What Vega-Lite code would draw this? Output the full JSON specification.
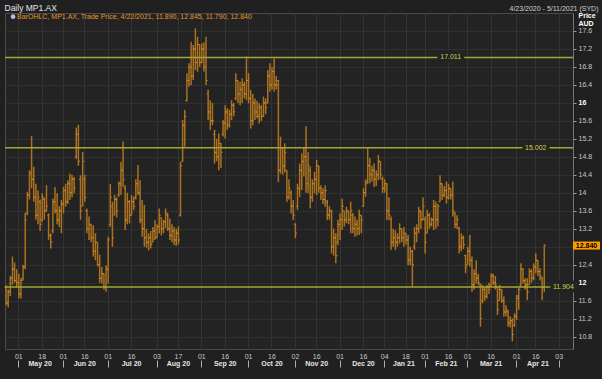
{
"$schema": "https://vega.github.io/schema/vega-lite/v6.json",
"width": 568, "height": 336,
"autosize": {"type": "none"},
"padding": {"left": 5, "top": 13, "right": 29, "bottom": 30},
"background": "#202020",
"config": {"view": {"fill": "#232323", "stroke": "#4a4a4a"}, "font": "Liberation Sans"},
"datasets": {
"one": [{}],
"refs": [{"level": 17.011, "label": "17.011", "at": "2021-02-17"}, {"level": 15.002, "label": "15.002", "at": "2021-04-16"}, {"level": 11.904, "label": "11.904", "at": "2021-05-05"}],
"bars": [
{"d":"2020-04-23","o":11.9,"h":11.95,"l":11.5,"c":11.55},
{"d":"2020-04-24","o":11.55,"h":11.85,"l":11.45,"c":11.8},
{"d":"2020-04-27","o":11.8,"h":12.15,"l":11.7,"c":12.1},
{"d":"2020-04-28","o":12.1,"h":12.58,"l":11.95,"c":12.3},
{"d":"2020-04-29","o":12.3,"h":12.45,"l":12.0,"c":12.05},
{"d":"2020-04-30","o":12.05,"h":12.3,"l":11.9,"c":12.0},
{"d":"2020-05-01","o":12.0,"h":12.2,"l":11.65,"c":11.75},
{"d":"2020-05-04","o":11.75,"h":12.1,"l":11.65,"c":12.05},
{"d":"2020-05-05","o":12.1,"h":12.4,"l":12.05,"c":12.35},
{"d":"2020-05-06","o":12.35,"h":13.55,"l":12.3,"c":13.4},
{"d":"2020-05-07","o":13.55,"h":14.02,"l":13.5,"c":13.95},
{"d":"2020-05-08","o":13.95,"h":14.5,"l":13.85,"c":14.4},
{"d":"2020-05-11","o":14.45,"h":15.26,"l":14.1,"c":14.3},
{"d":"2020-05-12","o":14.3,"h":14.58,"l":13.8,"c":13.9},
{"d":"2020-05-13","o":13.9,"h":14.2,"l":13.4,"c":13.5},
{"d":"2020-05-14","o":13.5,"h":14.05,"l":13.3,"c":13.9},
{"d":"2020-05-15","o":13.8,"h":13.85,"l":13.15,"c":13.3},
{"d":"2020-05-18","o":13.4,"h":13.99,"l":13.35,"c":13.9},
{"d":"2020-05-19","o":13.85,"h":13.9,"l":13.4,"c":13.6},
{"d":"2020-05-20","o":13.6,"h":14.17,"l":13.58,"c":13.7},
{"d":"2020-05-21","o":13.5,"h":13.54,"l":12.95,"c":13.05},
{"d":"2020-05-22","o":13.05,"h":13.1,"l":12.76,"c":12.9},
{"d":"2020-05-25","o":13.15,"h":13.87,"l":13.1,"c":13.8},
{"d":"2020-05-26","o":13.8,"h":14.13,"l":13.54,"c":13.6},
{"d":"2020-05-27","o":13.6,"h":13.99,"l":13.3,"c":13.4},
{"d":"2020-05-28","o":13.4,"h":13.7,"l":13.24,"c":13.6},
{"d":"2020-05-29","o":13.6,"h":13.84,"l":13.1,"c":13.75},
{"d":"2020-06-01","o":13.75,"h":14.13,"l":13.54,"c":14.05},
{"d":"2020-06-02","o":14.05,"h":14.2,"l":13.69,"c":13.8},
{"d":"2020-06-03","o":13.8,"h":14.28,"l":13.75,"c":14.2},
{"d":"2020-06-04","o":14.2,"h":14.43,"l":13.84,"c":14.0},
{"d":"2020-06-05","o":14.0,"h":14.4,"l":13.9,"c":14.3},
{"d":"2020-06-09","o":14.3,"h":14.35,"l":13.99,"c":14.1},
{"d":"2020-06-10","o":14.8,"h":15.45,"l":14.75,"c":15.3},
{"d":"2020-06-11","o":15.3,"h":15.51,"l":14.6,"c":14.7},
{"d":"2020-06-12","o":14.3,"h":14.39,"l":13.4,"c":13.6},
{"d":"2020-06-15","o":13.7,"h":14.91,"l":13.7,"c":14.7},
{"d":"2020-06-16","o":14.3,"h":14.4,"l":13.8,"c":13.9},
{"d":"2020-06-17","o":13.6,"h":13.65,"l":13.1,"c":13.2},
{"d":"2020-06-18","o":13.2,"h":13.47,"l":12.95,"c":13.3},
{"d":"2020-06-19","o":13.3,"h":13.3,"l":12.9,"c":13.0},
{"d":"2020-06-22","o":13.0,"h":13.28,"l":12.58,"c":12.7},
{"d":"2020-06-23","o":12.7,"h":13.1,"l":12.5,"c":12.9},
{"d":"2020-06-24","o":12.9,"h":12.9,"l":12.36,"c":12.4},
{"d":"2020-06-25","o":12.4,"h":12.62,"l":12.0,"c":12.1},
{"d":"2020-06-26","o":12.1,"h":12.35,"l":11.98,"c":12.2},
{"d":"2020-06-29","o":12.2,"h":12.21,"l":11.84,"c":11.9},
{"d":"2020-06-30","o":11.9,"h":12.39,"l":11.8,"c":12.3},
{"d":"2020-07-01","o":12.3,"h":13.02,"l":11.98,"c":12.95},
{"d":"2020-07-02","o":13.3,"h":14.2,"l":13.24,"c":13.9},
{"d":"2020-07-03","o":13.7,"h":13.8,"l":12.8,"c":13.0},
{"d":"2020-07-06","o":13.5,"h":13.95,"l":13.5,"c":13.85},
{"d":"2020-07-07","o":13.85,"h":13.9,"l":13.45,"c":13.6},
{"d":"2020-07-08","o":13.95,"h":14.25,"l":13.91,"c":14.2},
{"d":"2020-07-09","o":14.2,"h":14.69,"l":13.95,"c":14.5},
{"d":"2020-07-10","o":14.5,"h":15.14,"l":14.13,"c":14.3},
{"d":"2020-07-13","o":14.1,"h":14.17,"l":13.17,"c":13.4},
{"d":"2020-07-14","o":13.4,"h":14.0,"l":13.3,"c":13.8},
{"d":"2020-07-15","o":13.8,"h":13.84,"l":13.32,"c":13.5},
{"d":"2020-07-16","o":13.5,"h":13.95,"l":13.5,"c":13.8},
{"d":"2020-07-17","o":13.8,"h":13.91,"l":13.62,"c":13.7},
{"d":"2020-07-20","o":13.9,"h":14.3,"l":13.85,"c":14.2},
{"d":"2020-07-21","o":14.2,"h":14.62,"l":13.95,"c":14.0},
{"d":"2020-07-22","o":14.0,"h":14.28,"l":13.32,"c":13.4},
{"d":"2020-07-23","o":13.4,"h":13.84,"l":13.02,"c":13.2},
{"d":"2020-07-24","o":13.2,"h":13.73,"l":12.8,"c":13.0},
{"d":"2020-07-27","o":13.0,"h":13.2,"l":12.78,"c":12.9},
{"d":"2020-07-28","o":12.9,"h":13.1,"l":12.72,"c":13.0},
{"d":"2020-07-29","o":13.0,"h":13.15,"l":12.76,"c":12.85},
{"d":"2020-07-30","o":12.9,"h":13.24,"l":12.9,"c":13.15},
{"d":"2020-07-31","o":13.15,"h":13.39,"l":12.95,"c":13.0},
{"d":"2020-08-03","o":13.0,"h":13.3,"l":13.0,"c":13.25},
{"d":"2020-08-04","o":13.25,"h":13.65,"l":13.1,"c":13.5},
{"d":"2020-08-05","o":13.45,"h":13.45,"l":13.05,"c":13.2},
{"d":"2020-08-06","o":13.2,"h":13.4,"l":13.1,"c":13.35},
{"d":"2020-08-07","o":13.35,"h":13.65,"l":13.21,"c":13.55},
{"d":"2020-08-10","o":13.5,"h":13.55,"l":13.15,"c":13.2},
{"d":"2020-08-11","o":13.2,"h":13.43,"l":12.95,"c":13.05},
{"d":"2020-08-12","o":13.05,"h":13.3,"l":12.9,"c":13.15},
{"d":"2020-08-13","o":13.15,"h":13.24,"l":12.84,"c":12.95},
{"d":"2020-08-14","o":12.95,"h":13.2,"l":12.82,"c":13.1},
{"d":"2020-08-17","o":13.1,"h":13.25,"l":12.85,"c":12.95},
{"d":"2020-08-18","o":13.5,"h":14.69,"l":13.47,"c":14.6},
{"d":"2020-08-19","o":14.7,"h":15.62,"l":14.69,"c":15.5},
{"d":"2020-08-20","o":15.5,"h":15.84,"l":15.03,"c":15.7},
{"d":"2020-08-21","o":16.05,"h":16.66,"l":16.03,"c":16.5},
{"d":"2020-08-24","o":16.5,"h":16.88,"l":16.36,"c":16.8},
{"d":"2020-08-25","o":16.8,"h":17.36,"l":16.4,"c":16.6},
{"d":"2020-08-26","o":16.6,"h":17.29,"l":16.51,"c":17.2},
{"d":"2020-08-27","o":17.2,"h":17.66,"l":16.73,"c":16.9},
{"d":"2020-08-28","o":16.9,"h":17.47,"l":16.69,"c":17.3},
{"d":"2020-08-31","o":17.3,"h":17.3,"l":16.8,"c":16.9},
{"d":"2020-09-01","o":16.9,"h":17.32,"l":16.88,"c":17.2},
{"d":"2020-09-02","o":17.2,"h":17.35,"l":16.7,"c":16.8},
{"d":"2020-09-03","o":16.8,"h":17.47,"l":16.4,"c":16.5},
{"d":"2020-09-04","o":16.2,"h":16.29,"l":15.62,"c":15.8},
{"d":"2020-09-07","o":15.8,"h":16.06,"l":15.4,"c":15.6},
{"d":"2020-09-08","o":15.6,"h":16.0,"l":15.5,"c":15.6},
{"d":"2020-09-09","o":15.3,"h":15.4,"l":14.65,"c":14.9},
{"d":"2020-09-10","o":14.9,"h":15.2,"l":14.7,"c":14.8},
{"d":"2020-09-11","o":14.8,"h":15.32,"l":14.5,"c":15.1},
{"d":"2020-09-14","o":15.1,"h":15.1,"l":14.55,"c":14.9},
{"d":"2020-09-15","o":15.3,"h":15.62,"l":15.25,"c":15.55},
{"d":"2020-09-16","o":15.55,"h":15.95,"l":15.21,"c":15.8},
{"d":"2020-09-17","o":15.8,"h":15.88,"l":15.4,"c":15.5},
{"d":"2020-09-18","o":15.5,"h":15.85,"l":15.45,"c":15.75},
{"d":"2020-09-21","o":15.75,"h":16.06,"l":15.62,"c":15.95},
{"d":"2020-09-22","o":15.95,"h":16.0,"l":15.7,"c":15.8},
{"d":"2020-09-23","o":16.1,"h":16.66,"l":16.06,"c":16.5},
{"d":"2020-09-24","o":16.5,"h":16.5,"l":16.0,"c":16.2},
{"d":"2020-09-25","o":16.2,"h":16.47,"l":15.95,"c":16.3},
{"d":"2020-09-28","o":16.3,"h":16.55,"l":16.0,"c":16.4},
{"d":"2020-09-29","o":16.4,"h":16.47,"l":16.1,"c":16.2},
{"d":"2020-09-30","o":16.2,"h":17.03,"l":16.06,"c":16.5},
{"d":"2020-10-01","o":16.5,"h":16.66,"l":15.99,"c":16.1},
{"d":"2020-10-02","o":16.1,"h":16.29,"l":15.43,"c":15.6},
{"d":"2020-10-05","o":15.6,"h":16.2,"l":15.5,"c":16.0},
{"d":"2020-10-06","o":16.0,"h":16.1,"l":15.62,"c":15.8},
{"d":"2020-10-07","o":15.8,"h":16.05,"l":15.65,"c":15.7},
{"d":"2020-10-08","o":15.7,"h":15.99,"l":15.54,"c":15.9},
{"d":"2020-10-09","o":15.9,"h":15.95,"l":15.6,"c":15.7},
{"d":"2020-10-12","o":15.7,"h":16.14,"l":15.69,"c":16.0},
{"d":"2020-10-13","o":16.0,"h":16.1,"l":15.75,"c":15.9},
{"d":"2020-10-14","o":16.0,"h":16.73,"l":15.99,"c":16.6},
{"d":"2020-10-15","o":16.6,"h":16.88,"l":16.25,"c":16.4},
{"d":"2020-10-16","o":16.4,"h":16.8,"l":16.3,"c":16.7},
{"d":"2020-10-19","o":16.7,"h":16.99,"l":16.25,"c":16.4},
{"d":"2020-10-20","o":16.4,"h":16.6,"l":16.3,"c":16.5},
{"d":"2020-10-21","o":16.4,"h":16.51,"l":14.24,"c":14.5},
{"d":"2020-10-22","o":14.5,"h":15.25,"l":14.43,"c":15.0},
{"d":"2020-10-23","o":15.0,"h":15.0,"l":14.4,"c":14.6},
{"d":"2020-10-26","o":14.6,"h":15.1,"l":14.45,"c":14.9},
{"d":"2020-10-27","o":14.5,"h":14.5,"l":13.8,"c":13.9},
{"d":"2020-10-28","o":13.9,"h":14.3,"l":13.85,"c":14.1},
{"d":"2020-10-29","o":14.0,"h":14.06,"l":13.54,"c":13.7},
{"d":"2020-10-30","o":13.7,"h":13.84,"l":13.39,"c":13.5},
{"d":"2020-11-02","o":13.3,"h":13.32,"l":12.99,"c":13.1},
{"d":"2020-11-03","o":13.7,"h":14.2,"l":13.62,"c":14.1},
{"d":"2020-11-04","o":14.1,"h":14.65,"l":13.9,"c":14.5},
{"d":"2020-11-05","o":14.5,"h":14.88,"l":14.06,"c":14.7},
{"d":"2020-11-06","o":14.7,"h":15.02,"l":14.36,"c":14.8},
{"d":"2020-11-09","o":14.8,"h":15.48,"l":14.0,"c":14.2},
{"d":"2020-11-10","o":14.2,"h":14.9,"l":13.99,"c":14.6},
{"d":"2020-11-11","o":14.5,"h":14.58,"l":13.65,"c":13.9},
{"d":"2020-11-12","o":13.9,"h":14.3,"l":13.8,"c":14.2},
{"d":"2020-11-13","o":14.2,"h":14.47,"l":13.99,"c":14.3},
{"d":"2020-11-16","o":14.3,"h":14.73,"l":13.95,"c":14.6},
{"d":"2020-11-17","o":14.6,"h":14.6,"l":14.0,"c":14.1},
{"d":"2020-11-18","o":14.1,"h":14.17,"l":13.84,"c":14.0},
{"d":"2020-11-19","o":14.0,"h":14.1,"l":13.75,"c":13.85},
{"d":"2020-11-20","o":13.85,"h":14.17,"l":13.69,"c":14.05},
{"d":"2020-11-23","o":13.8,"h":13.84,"l":13.39,"c":13.5},
{"d":"2020-11-24","o":13.5,"h":13.7,"l":13.4,"c":13.6},
{"d":"2020-11-25","o":13.6,"h":13.62,"l":12.65,"c":12.8},
{"d":"2020-11-26","o":12.8,"h":13.2,"l":12.6,"c":13.0},
{"d":"2020-11-27","o":13.0,"h":13.1,"l":12.43,"c":12.6},
{"d":"2020-11-30","o":12.9,"h":13.4,"l":12.84,"c":13.3},
{"d":"2020-12-01","o":13.3,"h":13.54,"l":12.95,"c":13.4},
{"d":"2020-12-02","o":13.4,"h":13.87,"l":13.17,"c":13.7},
{"d":"2020-12-03","o":13.6,"h":13.6,"l":13.25,"c":13.4},
{"d":"2020-12-04","o":13.4,"h":13.69,"l":13.32,"c":13.6},
{"d":"2020-12-07","o":13.6,"h":13.6,"l":13.3,"c":13.4},
{"d":"2020-12-08","o":13.4,"h":13.8,"l":13.1,"c":13.6},
{"d":"2020-12-09","o":13.5,"h":13.55,"l":13.1,"c":13.2},
{"d":"2020-12-10","o":13.2,"h":13.47,"l":13.02,"c":13.3},
{"d":"2020-12-11","o":13.3,"h":13.4,"l":13.05,"c":13.2},
{"d":"2020-12-14","o":13.2,"h":13.62,"l":13.06,"c":13.5},
{"d":"2020-12-15","o":13.5,"h":13.5,"l":13.1,"c":13.4},
{"d":"2020-12-16","o":13.7,"h":14.1,"l":13.69,"c":14.0},
{"d":"2020-12-17","o":14.0,"h":14.3,"l":13.91,"c":14.2},
{"d":"2020-12-18","o":14.25,"h":14.99,"l":14.2,"c":14.6},
{"d":"2020-12-21","o":14.6,"h":14.77,"l":14.21,"c":14.4},
{"d":"2020-12-22","o":14.4,"h":14.6,"l":14.25,"c":14.5},
{"d":"2020-12-23","o":14.5,"h":14.65,"l":14.13,"c":14.3},
{"d":"2020-12-24","o":14.3,"h":14.5,"l":14.15,"c":14.4},
{"d":"2020-12-29","o":14.4,"h":14.84,"l":14.28,"c":14.7},
{"d":"2020-12-30","o":14.7,"h":14.7,"l":14.3,"c":14.4},
{"d":"2020-12-31","o":14.3,"h":14.36,"l":13.99,"c":14.1},
{"d":"2021-01-04","o":14.1,"h":14.3,"l":14.0,"c":14.2},
{"d":"2021-01-05","o":14.2,"h":14.21,"l":13.39,"c":13.6},
{"d":"2021-01-06","o":13.6,"h":13.9,"l":13.4,"c":13.5},
{"d":"2021-01-07","o":13.4,"h":13.47,"l":12.73,"c":12.9},
{"d":"2021-01-08","o":12.9,"h":13.2,"l":12.8,"c":13.0},
{"d":"2021-01-11","o":13.0,"h":13.17,"l":12.73,"c":12.9},
{"d":"2021-01-12","o":12.9,"h":13.1,"l":12.8,"c":13.0},
{"d":"2021-01-13","o":13.0,"h":13.32,"l":12.87,"c":13.2},
{"d":"2021-01-14","o":13.2,"h":13.2,"l":12.9,"c":13.0},
{"d":"2021-01-15","o":13.0,"h":13.24,"l":12.8,"c":13.1},
{"d":"2021-01-18","o":13.1,"h":13.1,"l":12.85,"c":12.95},
{"d":"2021-01-19","o":12.95,"h":13.06,"l":12.39,"c":12.5},
{"d":"2021-01-20","o":12.5,"h":12.8,"l":12.39,"c":12.7},
{"d":"2021-01-21","o":12.7,"h":12.73,"l":11.91,"c":12.4},
{"d":"2021-01-22","o":12.8,"h":13.24,"l":12.73,"c":13.1},
{"d":"2021-01-25","o":13.1,"h":13.3,"l":12.9,"c":13.2},
{"d":"2021-01-27","o":13.2,"h":13.69,"l":13.1,"c":13.6},
{"d":"2021-01-28","o":13.6,"h":13.6,"l":13.2,"c":13.4},
{"d":"2021-01-29","o":13.4,"h":13.9,"l":13.39,"c":13.7},
{"d":"2021-02-01","o":13.4,"h":13.47,"l":12.65,"c":12.9},
{"d":"2021-02-02","o":13.1,"h":13.62,"l":13.1,"c":13.5},
{"d":"2021-02-03","o":13.5,"h":13.55,"l":13.2,"c":13.3},
{"d":"2021-02-04","o":13.3,"h":13.45,"l":13.25,"c":13.4},
{"d":"2021-02-05","o":13.4,"h":13.84,"l":13.17,"c":13.7},
{"d":"2021-02-08","o":13.7,"h":13.8,"l":13.2,"c":13.4},
{"d":"2021-02-09","o":13.4,"h":13.75,"l":13.25,"c":13.7},
{"d":"2021-02-10","o":13.8,"h":14.39,"l":13.8,"c":14.2},
{"d":"2021-02-11","o":14.2,"h":14.21,"l":13.84,"c":13.95},
{"d":"2021-02-12","o":13.95,"h":14.15,"l":13.9,"c":14.05},
{"d":"2021-02-15","o":14.05,"h":14.25,"l":13.76,"c":13.9},
{"d":"2021-02-16","o":13.9,"h":14.2,"l":13.85,"c":14.1},
{"d":"2021-02-17","o":14.1,"h":14.1,"l":13.85,"c":13.95},
{"d":"2021-02-18","o":13.95,"h":14.25,"l":13.47,"c":13.6},
{"d":"2021-02-19","o":13.55,"h":13.58,"l":13.21,"c":13.3},
{"d":"2021-02-22","o":13.3,"h":13.5,"l":13.2,"c":13.4},
{"d":"2021-02-23","o":13.2,"h":13.24,"l":12.65,"c":12.8},
{"d":"2021-02-24","o":12.8,"h":13.1,"l":12.7,"c":13.0},
{"d":"2021-02-25","o":13.0,"h":13.05,"l":12.75,"c":12.85},
{"d":"2021-02-26","o":12.6,"h":12.62,"l":12.21,"c":12.35},
{"d":"2021-03-01","o":12.4,"h":12.8,"l":12.4,"c":12.7},
{"d":"2021-03-02","o":12.7,"h":13.06,"l":12.36,"c":12.5},
{"d":"2021-03-03","o":12.5,"h":12.58,"l":11.8,"c":11.95},
{"d":"2021-03-04","o":11.95,"h":12.3,"l":11.85,"c":12.2},
{"d":"2021-03-05","o":12.2,"h":12.5,"l":11.98,"c":12.1},
{"d":"2021-03-08","o":12.1,"h":12.2,"l":11.95,"c":12.0},
{"d":"2021-03-09","o":11.95,"h":11.98,"l":11.02,"c":11.2},
{"d":"2021-03-10","o":11.6,"h":11.95,"l":11.54,"c":11.85},
{"d":"2021-03-11","o":11.85,"h":11.9,"l":11.6,"c":11.7},
{"d":"2021-03-12","o":11.7,"h":11.95,"l":11.65,"c":11.9},
{"d":"2021-03-15","o":11.9,"h":12.0,"l":11.75,"c":11.85},
{"d":"2021-03-16","o":11.95,"h":12.21,"l":11.91,"c":12.15},
{"d":"2021-03-17","o":12.15,"h":12.2,"l":11.95,"c":12.0},
{"d":"2021-03-18","o":12.0,"h":12.15,"l":11.85,"c":11.95},
{"d":"2021-03-19","o":11.9,"h":11.91,"l":11.28,"c":11.4},
{"d":"2021-03-22","o":11.6,"h":11.95,"l":11.6,"c":11.85},
{"d":"2021-03-23","o":11.85,"h":11.85,"l":11.55,"c":11.6},
{"d":"2021-03-24","o":11.6,"h":11.69,"l":11.24,"c":11.35},
{"d":"2021-03-25","o":11.35,"h":11.5,"l":11.25,"c":11.4},
{"d":"2021-03-26","o":11.35,"h":11.39,"l":11.02,"c":11.1},
{"d":"2021-03-29","o":11.1,"h":11.25,"l":11.0,"c":11.15},
{"d":"2021-03-30","o":11.15,"h":11.21,"l":10.69,"c":10.85},
{"d":"2021-03-31","o":11.05,"h":11.32,"l":11.02,"c":11.25},
{"d":"2021-04-01","o":11.25,"h":11.73,"l":11.17,"c":11.65},
{"d":"2021-04-06","o":11.7,"h":11.9,"l":11.4,"c":11.85},
{"d":"2021-04-07","o":11.95,"h":12.43,"l":11.91,"c":12.3},
{"d":"2021-04-08","o":12.3,"h":12.32,"l":11.98,"c":12.05},
{"d":"2021-04-09","o":12.05,"h":12.1,"l":11.85,"c":11.95},
{"d":"2021-04-12","o":11.95,"h":12.1,"l":11.61,"c":11.8},
{"d":"2021-04-13","o":11.95,"h":12.32,"l":11.95,"c":12.25},
{"d":"2021-04-14","o":12.25,"h":12.3,"l":12.0,"c":12.1},
{"d":"2021-04-15","o":12.1,"h":12.43,"l":12.05,"c":12.35},
{"d":"2021-04-16","o":12.35,"h":12.65,"l":12.21,"c":12.5},
{"d":"2021-04-19","o":12.5,"h":12.5,"l":12.15,"c":12.25},
{"d":"2021-04-20","o":12.25,"h":12.32,"l":12.05,"c":12.15},
{"d":"2021-04-21","o":12.1,"h":12.13,"l":11.61,"c":11.89},
{"d":"2021-04-22","o":11.89,"h":12.845,"l":11.79,"c":12.84}
]
},
"layer": [
{
"data": {"name": "bars"},
"mark": {"type": "rule", "color": "#b97a1f", "strokeWidth": 1.5, "opacity": 0.9},
"encoding": {
"x": {"field": "d", "type": "ordinal",
"scale": {"type": "band", "paddingInner": 0, "paddingOuter": 0, "domain": [
"2020-04-23","2020-04-24","2020-04-27","2020-04-28","2020-04-29","2020-04-30",
"2020-05-01","2020-05-04","2020-05-05","2020-05-06","2020-05-07","2020-05-08","2020-05-11","2020-05-12","2020-05-13","2020-05-14","2020-05-15","2020-05-18","2020-05-19","2020-05-20","2020-05-21","2020-05-22","2020-05-25","2020-05-26","2020-05-27","2020-05-28","2020-05-29",
"2020-06-01","2020-06-02","2020-06-03","2020-06-04","2020-06-05","2020-06-09","2020-06-10","2020-06-11","2020-06-12","2020-06-15","2020-06-16","2020-06-17","2020-06-18","2020-06-19","2020-06-22","2020-06-23","2020-06-24","2020-06-25","2020-06-26","2020-06-29","2020-06-30",
"2020-07-01","2020-07-02","2020-07-03","2020-07-06","2020-07-07","2020-07-08","2020-07-09","2020-07-10","2020-07-13","2020-07-14","2020-07-15","2020-07-16","2020-07-17","2020-07-20","2020-07-21","2020-07-22","2020-07-23","2020-07-24","2020-07-27","2020-07-28","2020-07-29","2020-07-30","2020-07-31",
"2020-08-03","2020-08-04","2020-08-05","2020-08-06","2020-08-07","2020-08-10","2020-08-11","2020-08-12","2020-08-13","2020-08-14","2020-08-17","2020-08-18","2020-08-19","2020-08-20","2020-08-21","2020-08-24","2020-08-25","2020-08-26","2020-08-27","2020-08-28","2020-08-31",
"2020-09-01","2020-09-02","2020-09-03","2020-09-04","2020-09-07","2020-09-08","2020-09-09","2020-09-10","2020-09-11","2020-09-14","2020-09-15","2020-09-16","2020-09-17","2020-09-18","2020-09-21","2020-09-22","2020-09-23","2020-09-24","2020-09-25","2020-09-28","2020-09-29","2020-09-30",
"2020-10-01","2020-10-02","2020-10-05","2020-10-06","2020-10-07","2020-10-08","2020-10-09","2020-10-12","2020-10-13","2020-10-14","2020-10-15","2020-10-16","2020-10-19","2020-10-20","2020-10-21","2020-10-22","2020-10-23","2020-10-26","2020-10-27","2020-10-28","2020-10-29","2020-10-30",
"2020-11-02","2020-11-03","2020-11-04","2020-11-05","2020-11-06","2020-11-09","2020-11-10","2020-11-11","2020-11-12","2020-11-13","2020-11-16","2020-11-17","2020-11-18","2020-11-19","2020-11-20","2020-11-23","2020-11-24","2020-11-25","2020-11-26","2020-11-27","2020-11-30",
"2020-12-01","2020-12-02","2020-12-03","2020-12-04","2020-12-07","2020-12-08","2020-12-09","2020-12-10","2020-12-11","2020-12-14","2020-12-15","2020-12-16","2020-12-17","2020-12-18","2020-12-21","2020-12-22","2020-12-23","2020-12-24","2020-12-29","2020-12-30","2020-12-31",
"2021-01-04","2021-01-05","2021-01-06","2021-01-07","2021-01-08","2021-01-11","2021-01-12","2021-01-13","2021-01-14","2021-01-15","2021-01-18","2021-01-19","2021-01-20","2021-01-21","2021-01-22","2021-01-25","2021-01-27","2021-01-28","2021-01-29",
"2021-02-01","2021-02-02","2021-02-03","2021-02-04","2021-02-05","2021-02-08","2021-02-09","2021-02-10","2021-02-11","2021-02-12","2021-02-15","2021-02-16","2021-02-17","2021-02-18","2021-02-19","2021-02-22","2021-02-23","2021-02-24","2021-02-25","2021-02-26",
"2021-03-01","2021-03-02","2021-03-03","2021-03-04","2021-03-05","2021-03-08","2021-03-09","2021-03-10","2021-03-11","2021-03-12","2021-03-15","2021-03-16","2021-03-17","2021-03-18","2021-03-19","2021-03-22","2021-03-23","2021-03-24","2021-03-25","2021-03-26","2021-03-29","2021-03-30","2021-03-31",
"2021-04-01","2021-04-06","2021-04-07","2021-04-08","2021-04-09","2021-04-12","2021-04-13","2021-04-14","2021-04-15","2021-04-16","2021-04-19","2021-04-20","2021-04-21","2021-04-22","2021-04-23","2021-04-26","2021-04-27","2021-04-28","2021-04-29","2021-04-30",
"2021-05-03","2021-05-04","2021-05-05","2021-05-06","2021-05-07","2021-05-10","2021-05-11"]},
"axis": {"orient": "bottom", "title": null, "bandPosition": 0.5,
"values": ["2020-05-01","2020-05-18","2020-06-01","2020-06-16","2020-07-01","2020-07-16","2020-08-03","2020-08-17","2020-09-01","2020-09-16","2020-10-01","2020-10-16","2020-11-02","2020-11-16","2020-12-01","2020-12-16","2021-01-04","2021-01-18","2021-02-01","2021-02-16","2021-03-01","2021-03-16","2021-04-01","2021-04-16","2021-05-03"],
"labelExpr": "slice(datum.value, 8, 10)", "labelAngle": 0, "labelOverlap": false,
"grid": true, "gridColor": "#343434", "gridWidth": 1, "ticks": false, "domain": false,
"labelFontSize": 7, "labelColor": "#c8c8c8", "labelPadding": 3}},
"y": {"field": "l", "type": "quantitative",
"scale": {"domain": [10.524, 18.0], "nice": false, "zero": false}, "axis": null},
"y2": {"field": "h"}
}
},
{
"data": {"name": "bars"},
"mark": {"type": "tick", "size": 1.5, "thickness": 1, "xOffset": -0.9, "color": "#e89a30"},
"encoding": {"x": {"field": "d", "type": "ordinal", "axis": null}, "y": {"field": "o", "type": "quantitative", "axis": null}}
},
{
"data": {"name": "bars"},
"mark": {"type": "tick", "size": 1.5, "thickness": 1, "xOffset": 0.9, "color": "#e89a30"},
"encoding": {"x": {"field": "d", "type": "ordinal", "axis": null}, "y": {"field": "c", "type": "quantitative", "axis": null}}
},
{
"data": {"name": "refs"},
"mark": {"type": "rule", "color": "#a6a633", "strokeWidth": 1.5},
"encoding": {"y": {"field": "level", "type": "quantitative",
"axis": {"orient": "right",
"values": [10.8, 11.2, 11.6, 12, 12.4, 12.8, 13.2, 13.6, 14, 14.4, 14.8, 15.2, 15.6, 16, 16.4, 16.8, 17.2, 17.6],
"labelExpr": "(datum.value == 12.8 || datum.value == 12 || datum.value == 16) ? '' : format(datum.value, '.1~f')",
"grid": true, "gridColor": "#303030", "domainColor": "#777777", "tickColor": "#9a9a9a", "tickSize": 3,
"labelPadding": 2, "labelFontSize": 7, "labelColor": "#c8c8c8",
"title": "Price", "titleAngle": 0, "titleAlign": "left", "titleBaseline": "top", "titleX": 5, "titleY": -1.5,
"titleFontSize": 7, "titleFontWeight": "bold", "titleColor": "#ffffff"}}}
},
{
"data": {"name": "refs"},
"mark": {"type": "text", "fontSize": 7, "fill": "#232323", "stroke": "#232323", "strokeWidth": 7, "strokeJoin": "round", "baseline": "middle"},
"encoding": {
"x": {"field": "at", "type": "ordinal", "axis": {"orient": "bottom", "title": null, "bandPosition": 0.5, "offset": 11,
"values": ["2020-05-01","2020-06-01","2020-07-01","2020-08-03","2020-09-01","2020-10-01","2020-11-02","2020-12-01","2021-01-04","2021-02-01","2021-03-01","2021-04-01","2021-05-03"],
"labels": false, "ticks": true, "tickSize": 7, "tickColor": "#b0b0b0", "tickWidth": 1, "domain": false, "grid": false}},
"y": {"field": "level", "type": "quantitative", "axis": {"orient": "right", "values": [12, 16], "title": null,
"labelExpr": "format(datum.value, '.1~f')", "ticks": true, "tickSize": 3, "tickOpacity": 0, "domain": false, "grid": false,
"labelPadding": 2, "labelFontSize": 7, "labelFontWeight": "bold", "labelColor": "#ffffff"}},
"text": {"field": "label"}
}
},
{
"data": {"name": "refs"},
"mark": {"type": "text", "fontSize": 7, "fill": "#cfcf50", "baseline": "middle"},
"encoding": {
"x": {"field": "at", "type": "ordinal", "axis": {"orient": "bottom", "title": null, "bandPosition": 0.5, "offset": 10,
"values": ["2020-05-15","2020-06-16","2020-07-16","2020-08-17","2020-09-16","2020-10-16","2020-11-16","2020-12-16","2021-01-15","2021-02-15","2021-03-16","2021-04-19"],
"labelExpr": "utcFormat(toDate(datum.value), '%b %y')", "labelAngle": 0, "labelOverlap": false,
"ticks": false, "domain": false, "grid": false, "labelPadding": 0,
"labelFontSize": 7, "labelFontWeight": "bold", "labelColor": "#e6e6e6"}},
"y": {"field": "level", "type": "quantitative", "axis": null},
"text": {"field": "label"}
}
},
{
"data": {"name": "one"},
"mark": {"type": "point", "filled": true, "size": 22, "color": "#a9c3e0", "opacity": 1, "xOffset": 7},
"encoding": {
"x": {"datum": "2020-04-23", "type": "ordinal", "axis": null},
"y": {"datum": 17.918, "type": "quantitative", "axis": null}
}
},
{
"data": {"name": "one"},
"mark": {"type": "text", "align": "left", "baseline": "middle", "dx": 11, "fontSize": 7, "color": "#e8962a",
"text": "BarOHLC, MP1.AX, Trade Price, 4/22/2021, 11.890, 12.845, 11.790, 12.840"},
"encoding": {
"x": {"datum": "2020-04-23", "type": "ordinal", "axis": {"orient": "top", "values": [], "labels": false, "ticks": false, "domain": false, "grid": false,
"title": "Daily MP1.AX", "titleX": -1, "titleY": -2.5, "titleAlign": "left", "titleBaseline": "alphabetic", "titleAngle": 0,
"titleFontSize": 8.5, "titleFontWeight": "normal", "titleColor": "#e6e6e6"}},
"y": {"datum": 17.918, "type": "quantitative", "axis": null}
}
},
{
"data": {"name": "one"},
"mark": {"type": "rect", "color": "#ff9a00", "xOffset": 2.1, "x2Offset": 29.1},
"encoding": {
"x": {"datum": "2021-05-11", "type": "ordinal", "bandPosition": 0, "axis": {"orient": "top", "values": [], "labels": false, "ticks": false, "domain": false, "grid": false,
"title": "4/23/2020 - 5/11/2021 (SYD)", "titleX": 593, "titleY": -2.5, "titleAlign": "right", "titleBaseline": "alphabetic", "titleAngle": 0,
"titleFontSize": 7, "titleFontWeight": "normal", "titleColor": "#d0d0d0"}},
"x2": {"datum": "2021-05-11", "bandPosition": 0},
"y": {"datum": 12.915, "type": "quantitative", "axis": {"orient": "right", "values": [], "labels": false, "ticks": false, "domain": false, "grid": false,
"title": "AUD", "titleAngle": 0, "titleAlign": "left", "titleBaseline": "top", "titleX": 5, "titleY": 6.5,
"titleFontSize": 7, "titleFontWeight": "bold", "titleColor": "#ffffff"}},
"y2": {"datum": 12.737}
}
},
{
"data": {"name": "one"},
"mark": {"type": "text", "align": "center", "baseline": "middle", "dx": 15.6, "fontSize": 7, "fontWeight": "bold", "color": "#000000", "text": "12.840"},
"encoding": {
"x": {"datum": "2021-05-11", "type": "ordinal", "bandPosition": 0, "axis": null},
"y": {"datum": 12.826, "type": "quantitative", "axis": null}
}
}
],
"resolve": {"axis": {"x": "independent", "y": "independent"}}
}
